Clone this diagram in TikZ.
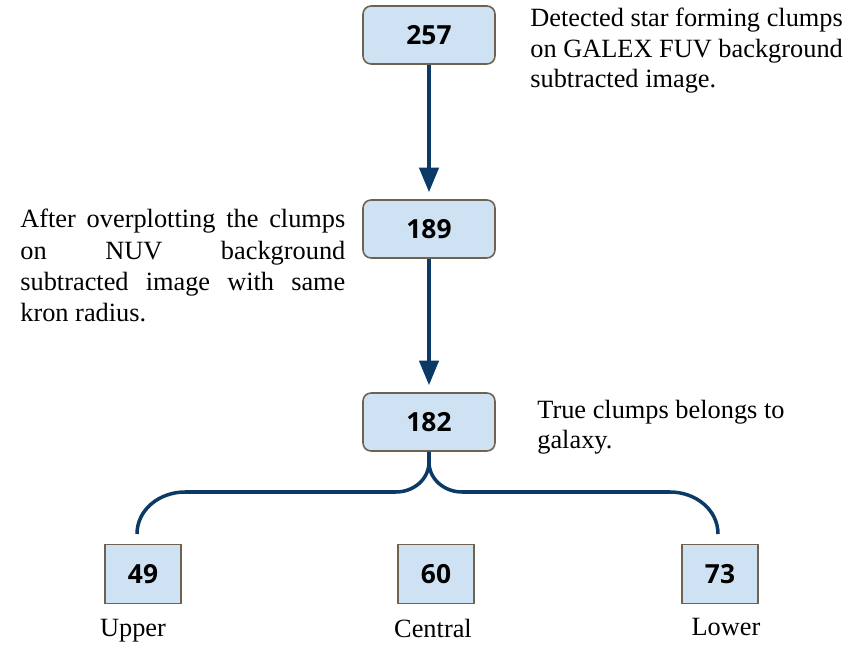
\documentclass[tikz,border=0pt]{standalone}
\usepackage{fontspec}
\setmainfont{Liberation Serif}
\newfontfamily\numfont{Open Sans}
\usepackage{xcolor}
\usepackage{tikz}
\usetikzlibrary{positioning,arrows.meta}
\definecolor{boxblue}{HTML}{CFE2F3}
\definecolor{boxedge}{HTML}{6E6250}
\definecolor{navyline}{HTML}{0B3A66}

\begin{document}
\begin{tikzpicture}[x=0.02cm, y=-0.02cm,
	bigbox/.style={draw=boxedge, fill=boxblue, line width=0.9pt, rounded corners=0.16cm, minimum width=2.64cm, minimum height=1.16cm, font=\numfont\bfseries\fontsize{15}{18}\selectfont},
	smallbox/.style={bigbox, sharp corners, minimum width=1.52cm, minimum height=1.18cm},
	note/.style={inner sep=0, font=\fontsize{15}{17.2}\selectfont},
	flow/.style={draw=navyline, line width=2pt, -{Triangle[length=14pt,width=11pt]}, shorten >=4pt},
	branch/.style={draw=navyline, line width=2pt}]
	\useasboundingbox (0,0) rectangle (863,645);
	\node[bigbox] (n257) at (429,35) {257};
	\node[bigbox] (n189) at (429,229) {189};
	\node[bigbox] (n182) at (429,422) {182};
	\node[smallbox] (n49) at (143,574) {49};
	\node[smallbox] (n60) at (436,574) {60};
	\node[smallbox] (n73) at (720,574) {73};
	\node[note, anchor=base] (lupper) at (133,636) {Upper};
	\node[note, anchor=base] (lcentral) at (433,637) {Central};
	\node[note, anchor=base] (llower) at (726,635) {Lower};
	\node[note, anchor=north west, align=left] (txtfuv) at (530,8) {Detected star forming clumps\\on GALEX FUV background\\subtracted image.};
	\node[note, anchor=north west, align=justify, text width=185pt, font=\fontsize{15}{17.8}\selectfont] (txtnuv) at (20,209) {After overplotting the clumps\linebreak on NUV background\linebreak subtracted image with same\linebreak kron radius.};
	\node[note, anchor=north west, align=left] (txtgal) at (537,400) {True clumps belongs to\\galaxy.};
	\coordinate (upend) at (137,534);
	\coordinate (lowend) at (718,534);
	\draw[flow] (n257) -- (n189);
	\draw[flow] (n189) -- (n182);
	% branch to the three parts
	\draw[branch] (n182.south) -- (429,462) to[out=-90,in=0] (396,492) -- (185,492) to[out=180,in=90] (upend);
	\draw[branch] (n182.south) -- (429,462) to[out=-90,in=180] (462,492) -- (670,492) to[out=0,in=90] (lowend);
\end{tikzpicture}
\end{document}
